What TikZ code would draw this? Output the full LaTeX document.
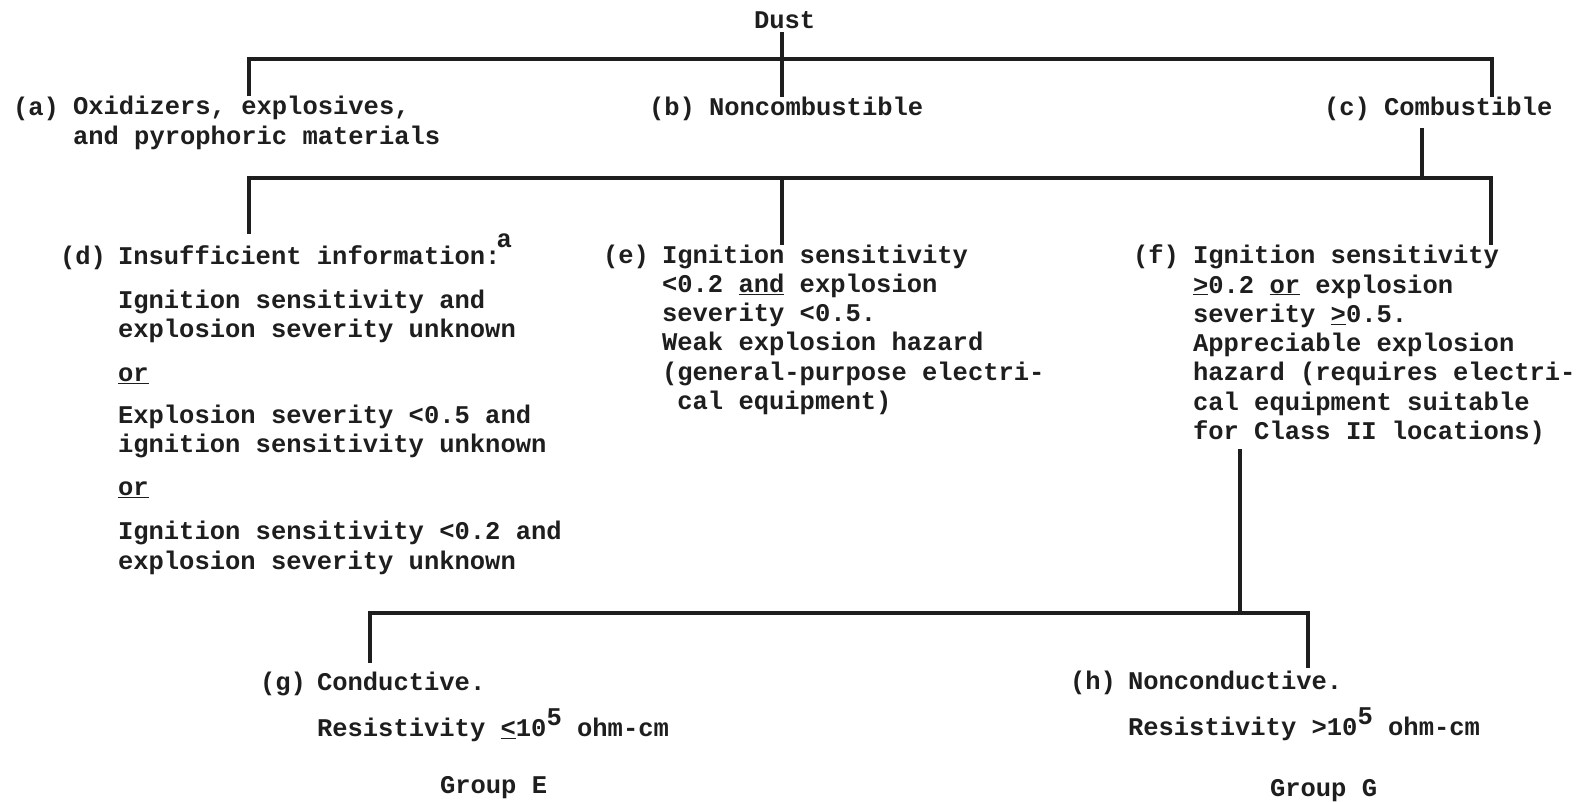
\documentclass[tikz,border=0pt]{standalone}
\usepackage{fontspec}
\setmainfont{Liberation Mono}
\definecolor{ink}{RGB}{30,30,30}
\begin{document}
\begin{tikzpicture}[x=1pt,y=-1pt,
  every node/.style={inner sep=0pt, outer sep=0pt, text=ink,
    font={\bfseries\fontsize{25.5}{29.3}\selectfont}},
  lab/.style={anchor=base west},
  txt/.style={anchor=base west, align=left},
  conn/.style={draw=ink, line width=3.2pt, line join=miter}]
\useasboundingbox[fill=white] (0,0) rectangle (1589,801);

% junction coordinates
\coordinate (aj) at (249,59);
\coordinate (bj) at (782,59);
\coordinate (cj) at (1492,59);
\coordinate (dj) at (249,178);
\coordinate (ej) at (782,178);
\coordinate (fj) at (1491,178);
\coordinate (cc) at (1422,178);
\coordinate (gj) at (370,613);
\coordinate (fdown) at (1240,613);
\coordinate (hj) at (1308,613);

% nodes (multi-line nodes are placed by the baseline of their last line)
\node[txt] (dust) at (754,28) {Dust};

\node[lab] (alab) at (13,115) {(a)};
\node[txt] (a) at (73,144) {Oxidizers, explosives,\\and pyrophoric materials};
\node[lab] (blab) at (649,115) {(b)};
\node[txt] (b) at (709,115) {Noncombustible};
\node[lab] (clab) at (1324,115) {(c)};
\node[txt] (c) at (1384,115) {Combustible};

\node[lab] (dlab) at (60,264) {(d)};
\node[txt] (d) at (118,569) {Insufficient information:\kern-0.15em\raisebox{0.65em}{a}\\[14.8pt]
Ignition sensitivity and\\
explosion severity unknown\\[14.7pt]
\underline{or}\\[12.6pt]
Explosion severity <0.5 and\\
ignition sensitivity unknown\\[13.7pt]
\underline{or}\\[14.7pt]
Ignition sensitivity <0.2 and\\
explosion severity unknown};

\node[lab] (elab) at (603,263) {(e)};
\node[txt] (e) at (662,409.5) {Ignition sensitivity\\
<0.2 \underline{and} explosion\\
severity <0.5.\\
Weak explosion hazard\\
(general-purpose electri-\\
\hspace*{0.6em}cal equipment)};

\node[lab] (flab) at (1133,263) {(f)};
\node[txt] (f) at (1193,439.5) {Ignition sensitivity\\
\underline{>}0.2 \underline{or} explosion\\
severity \underline{>}0.5.\\
Appreciable explosion\\
hazard (requires electri-\\
cal equipment suitable\\
for Class II locations)};

\node[lab] (glab) at (260,690) {(g)};
\node[txt] (g) at (317,736.6) {Conductive.\\[17.3pt]
Resistivity \underline{<}10\raisebox{0.45em}{5} ohm-cm};
\node[txt] (ge) at (440,793) {Group E};

\node[lab] (hlab) at (1070,689) {(h)};
\node[txt] (h) at (1128,735.6) {Nonconductive.\\[17.3pt]
Resistivity >10\raisebox{0.45em}{5} ohm-cm};
\node[txt] (gg) at (1270,796) {Group G};

% connectors
\draw[conn] ([yshift=-4pt]bj |- dust.south) -- (bj |- b.north);
\draw[conn] (aj |- a.north) -- (aj) -- (cj) -- (cj |- c.north);
\draw[conn] ([yshift=-13pt]c.base -| cc) -- (cc);
\draw[conn] (dj |- d.north) -- (dj) -- (fj) -- (fj |- f.north);
\draw[conn] (ej) -- (ej |- e.north);
\draw[conn] ([yshift=-4pt]f.south -| fdown) -- (fdown);
\draw[conn] ([yshift=9pt]g.north -| gj) -- (gj) -- (hj) -- ([yshift=3pt]h.north -| hj);
\end{tikzpicture}
\end{document}
